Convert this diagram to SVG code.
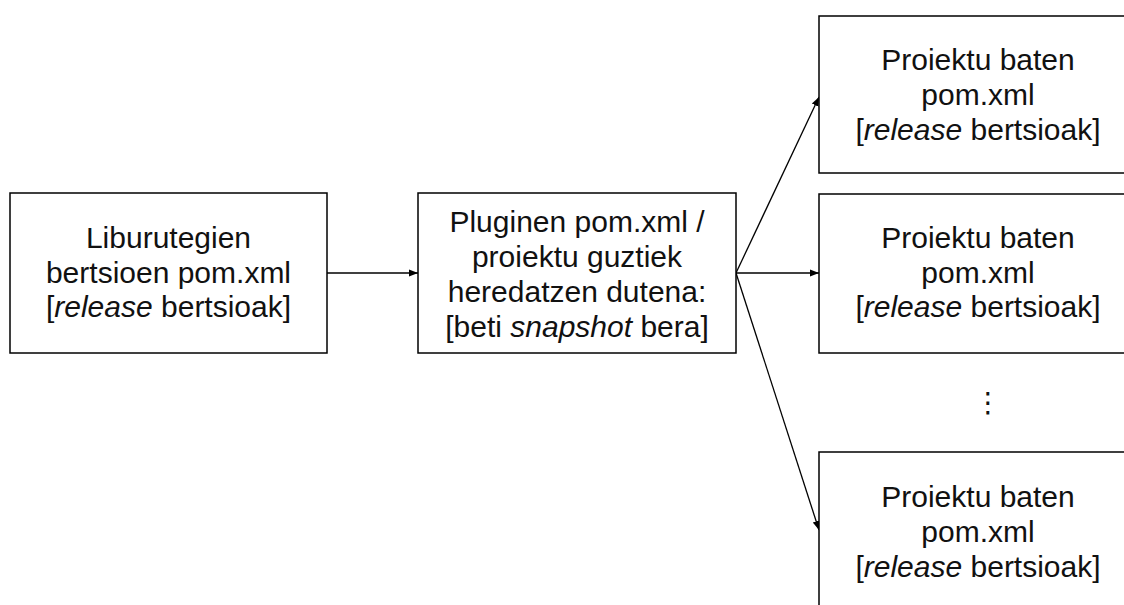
<svg xmlns="http://www.w3.org/2000/svg" width="1124" height="605" viewBox="0 0 1124 605">
<style>
.box{fill:#fff;stroke:#000;stroke-width:1.5}
.t{font-family:"Liberation Sans",Arial,sans-serif;font-size:30px;fill:#111;text-anchor:middle}
.i{font-style:italic}
.c{stroke:#000;stroke-width:1.3;fill:none;marker-end:url(#ah)}
</style>
<defs>
<marker id="ah" viewBox="0 0 10 10" refX="10" refY="5" markerWidth="9" markerHeight="9" markerUnits="userSpaceOnUse" orient="auto">
<path d="M0,1 L10,5 L0,9 z" fill="#000"/>
</marker>
</defs>
<rect width="1124" height="605" fill="#fff"/>
<g id="connectors">
<line class="c" x1="327" y1="273" x2="418" y2="273"/>
<line class="c" x1="736" y1="273" x2="819" y2="97"/>
<line class="c" x1="736" y1="273" x2="819" y2="273"/>
<line class="c" x1="736" y1="273" x2="819" y2="530"/>
</g>
<g id="n1">
<rect class="box" x="10" y="193" width="317" height="160"/>
<text class="t" x="168.5" y="248">Liburutegien</text>
<text class="t" x="168.5" y="283">bertsioen pom.xml</text>
<text class="t" x="168.5" y="317">[<tspan class="i">release</tspan> bertsioak]</text>
</g>
<g id="n2">
<rect class="box" x="418" y="193" width="318" height="160"/>
<text class="t" x="577" y="232">Pluginen pom.xml /</text>
<text class="t" x="577" y="267">proiektu guztiek</text>
<text class="t" x="577" y="302">heredatzen dutena:</text>
<text class="t" x="577" y="337">[beti <tspan class="i">snapshot</tspan> bera]</text>
</g>
<g id="n3">
<rect class="box" x="819" y="16" width="318" height="157"/>
<text class="t" x="978" y="70">Proiektu baten</text>
<text class="t" x="978" y="105">pom.xml</text>
<text class="t" x="978" y="140">[<tspan class="i">release</tspan> bertsioak]</text>
</g>
<g id="n4">
<rect class="box" x="819" y="194" width="318" height="159"/>
<text class="t" x="978" y="248">Proiektu baten</text>
<text class="t" x="978" y="283">pom.xml</text>
<text class="t" x="978" y="317">[<tspan class="i">release</tspan> bertsioak]</text>
</g>
<g id="dots">
<text x="988" y="412" style="font-family:'DejaVu Sans',sans-serif;font-size:28px;fill:#111;text-anchor:middle">⋮</text>
</g>
<g id="n5">
<rect class="box" x="819" y="452" width="318" height="160"/>
<text class="t" x="978" y="507">Proiektu baten</text>
<text class="t" x="978" y="542">pom.xml</text>
<text class="t" x="978" y="577">[<tspan class="i">release</tspan> bertsioak]</text>
</g>
</svg>
